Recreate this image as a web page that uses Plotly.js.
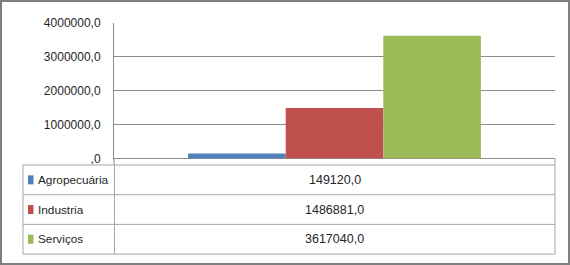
<!DOCTYPE html>
<html><head><meta charset="utf-8">
<script src="https://cdn.plot.ly/plotly-3.0.1.min.js"></script>
<style>html,body{margin:0;padding:0;background:#fff}#chart{width:570px;height:265px}</style>
</head><body><div id="chart"></div>
<script>
// ---- data ----
const series = ['Agropecuária', 'Industria', 'Serviços'];
const values = [149120.0, 1486881.0, 3617040.0];
const colors = ['#4F81BD', '#C0504D', '#9BBB59'];
const category = [''];
const tickVals = [0, 1000000, 2000000, 3000000, 4000000];

function fmt(v) { return v === 0 ? ',0' : v.toFixed(1).replace('.', ','); }

const W = 570, H = 265;
const px = x => x / W, py = y => (H - y) / H;
const FONT = 'Liberation Sans Narrow, Arial Narrow, Liberation Sans, sans-serif';
const TXT = '#262626';
const GRID = '#8C8C8C', TBL = '#A6A6A6';

const traces = series.map((s, i) => ({
  type: 'bar', name: s, x: category, y: [values[i]],
  marker: { color: colors[i], line: { width: 0 } },
  hoverinfo: 'skip', showlegend: false
}));

// data table geometry
const tL = 23, tD = 114.5, tR = 555, tT = 165, rowH = 29.7;
const shapes = [
  { type: 'line', xref: 'paper', yref: 'paper', x0: px(114), x1: px(114), y0: py(158.5), y1: py(tT), line: { color: GRID, width: 1 } },
  { type: 'line', xref: 'paper', yref: 'paper', x0: px(tR), x1: px(tR), y0: py(158.5), y1: py(tT), line: { color: TBL, width: 1 } },
  { type: 'rect', xref: 'paper', yref: 'paper', x0: px(1), x1: px(569), y0: py(264), y1: py(1), line: { color: '#7F7F7F', width: 2 } }
];
const tB = tT + rowH * series.length;
for (let i = 0; i <= series.length; i++) {
  const y = tT + rowH * i;
  shapes.push({ type: 'line', xref: 'paper', yref: 'paper', x0: px(tL), x1: px(tR), y0: py(y), y1: py(y), line: { color: TBL, width: 1 } });
}
[tL, tD, tR].forEach(x => shapes.push({ type: 'line', xref: 'paper', yref: 'paper', x0: px(x), x1: px(x), y0: py(tT), y1: py(tB), line: { color: TBL, width: 1 } }));

const annotations = [];
series.forEach((s, i) => {
  const yc = tT + rowH * (i + 0.5);
  shapes.push({ type: 'rect', xref: 'paper', yref: 'paper', x0: px(28), x1: px(33.5), y0: py(yc + 4.5), y1: py(yc - 4.5), line: { width: 0 }, fillcolor: colors[i] });
  annotations.push({ xref: 'paper', yref: 'paper', x: px(36), y: py(yc), xanchor: 'left', yanchor: 'middle', text: s, showarrow: false, font: { family: FONT, size: 11.8, color: TXT } });
  annotations.push({ xref: 'paper', yref: 'paper', x: px((tD + tR) / 2), y: py(yc), xanchor: 'center', yanchor: 'middle', text: fmt(values[i]), showarrow: false, font: { family: FONT, size: 12.5, color: TXT } });
});

const layout = {
  width: W, height: H,
  margin: { l: 0, r: 0, t: 0, b: 0 },
  paper_bgcolor: '#fff', plot_bgcolor: '#fff',
  barmode: 'group', bargap: 0.336, bargroupgap: 0,
  showlegend: false,
  font: { family: FONT, size: 12, color: TXT },
  xaxis: { domain: [px(114), px(555)], showticklabels: false, ticks: '', showgrid: false,
           zeroline: false, showline: false, fixedrange: true },
  yaxis: { domain: [py(158.5), py(22.7)], range: [0, 4000000], tickvals: tickVals,
           ticktext: tickVals.map(fmt), ticks: '', ticklabelstandoff: 10,
           showgrid: true, gridcolor: GRID, gridwidth: 1,
           zeroline: true, zerolinecolor: GRID, zerolinewidth: 1,
           showline: true, linecolor: GRID, linewidth: 1,
           tickfont: { family: FONT, size: 12, color: TXT }, fixedrange: true },
  shapes: shapes,
  annotations: annotations
};

Plotly.newPlot('chart', traces, layout, { staticPlot: true, displayModeBar: false });
</script></body></html>
